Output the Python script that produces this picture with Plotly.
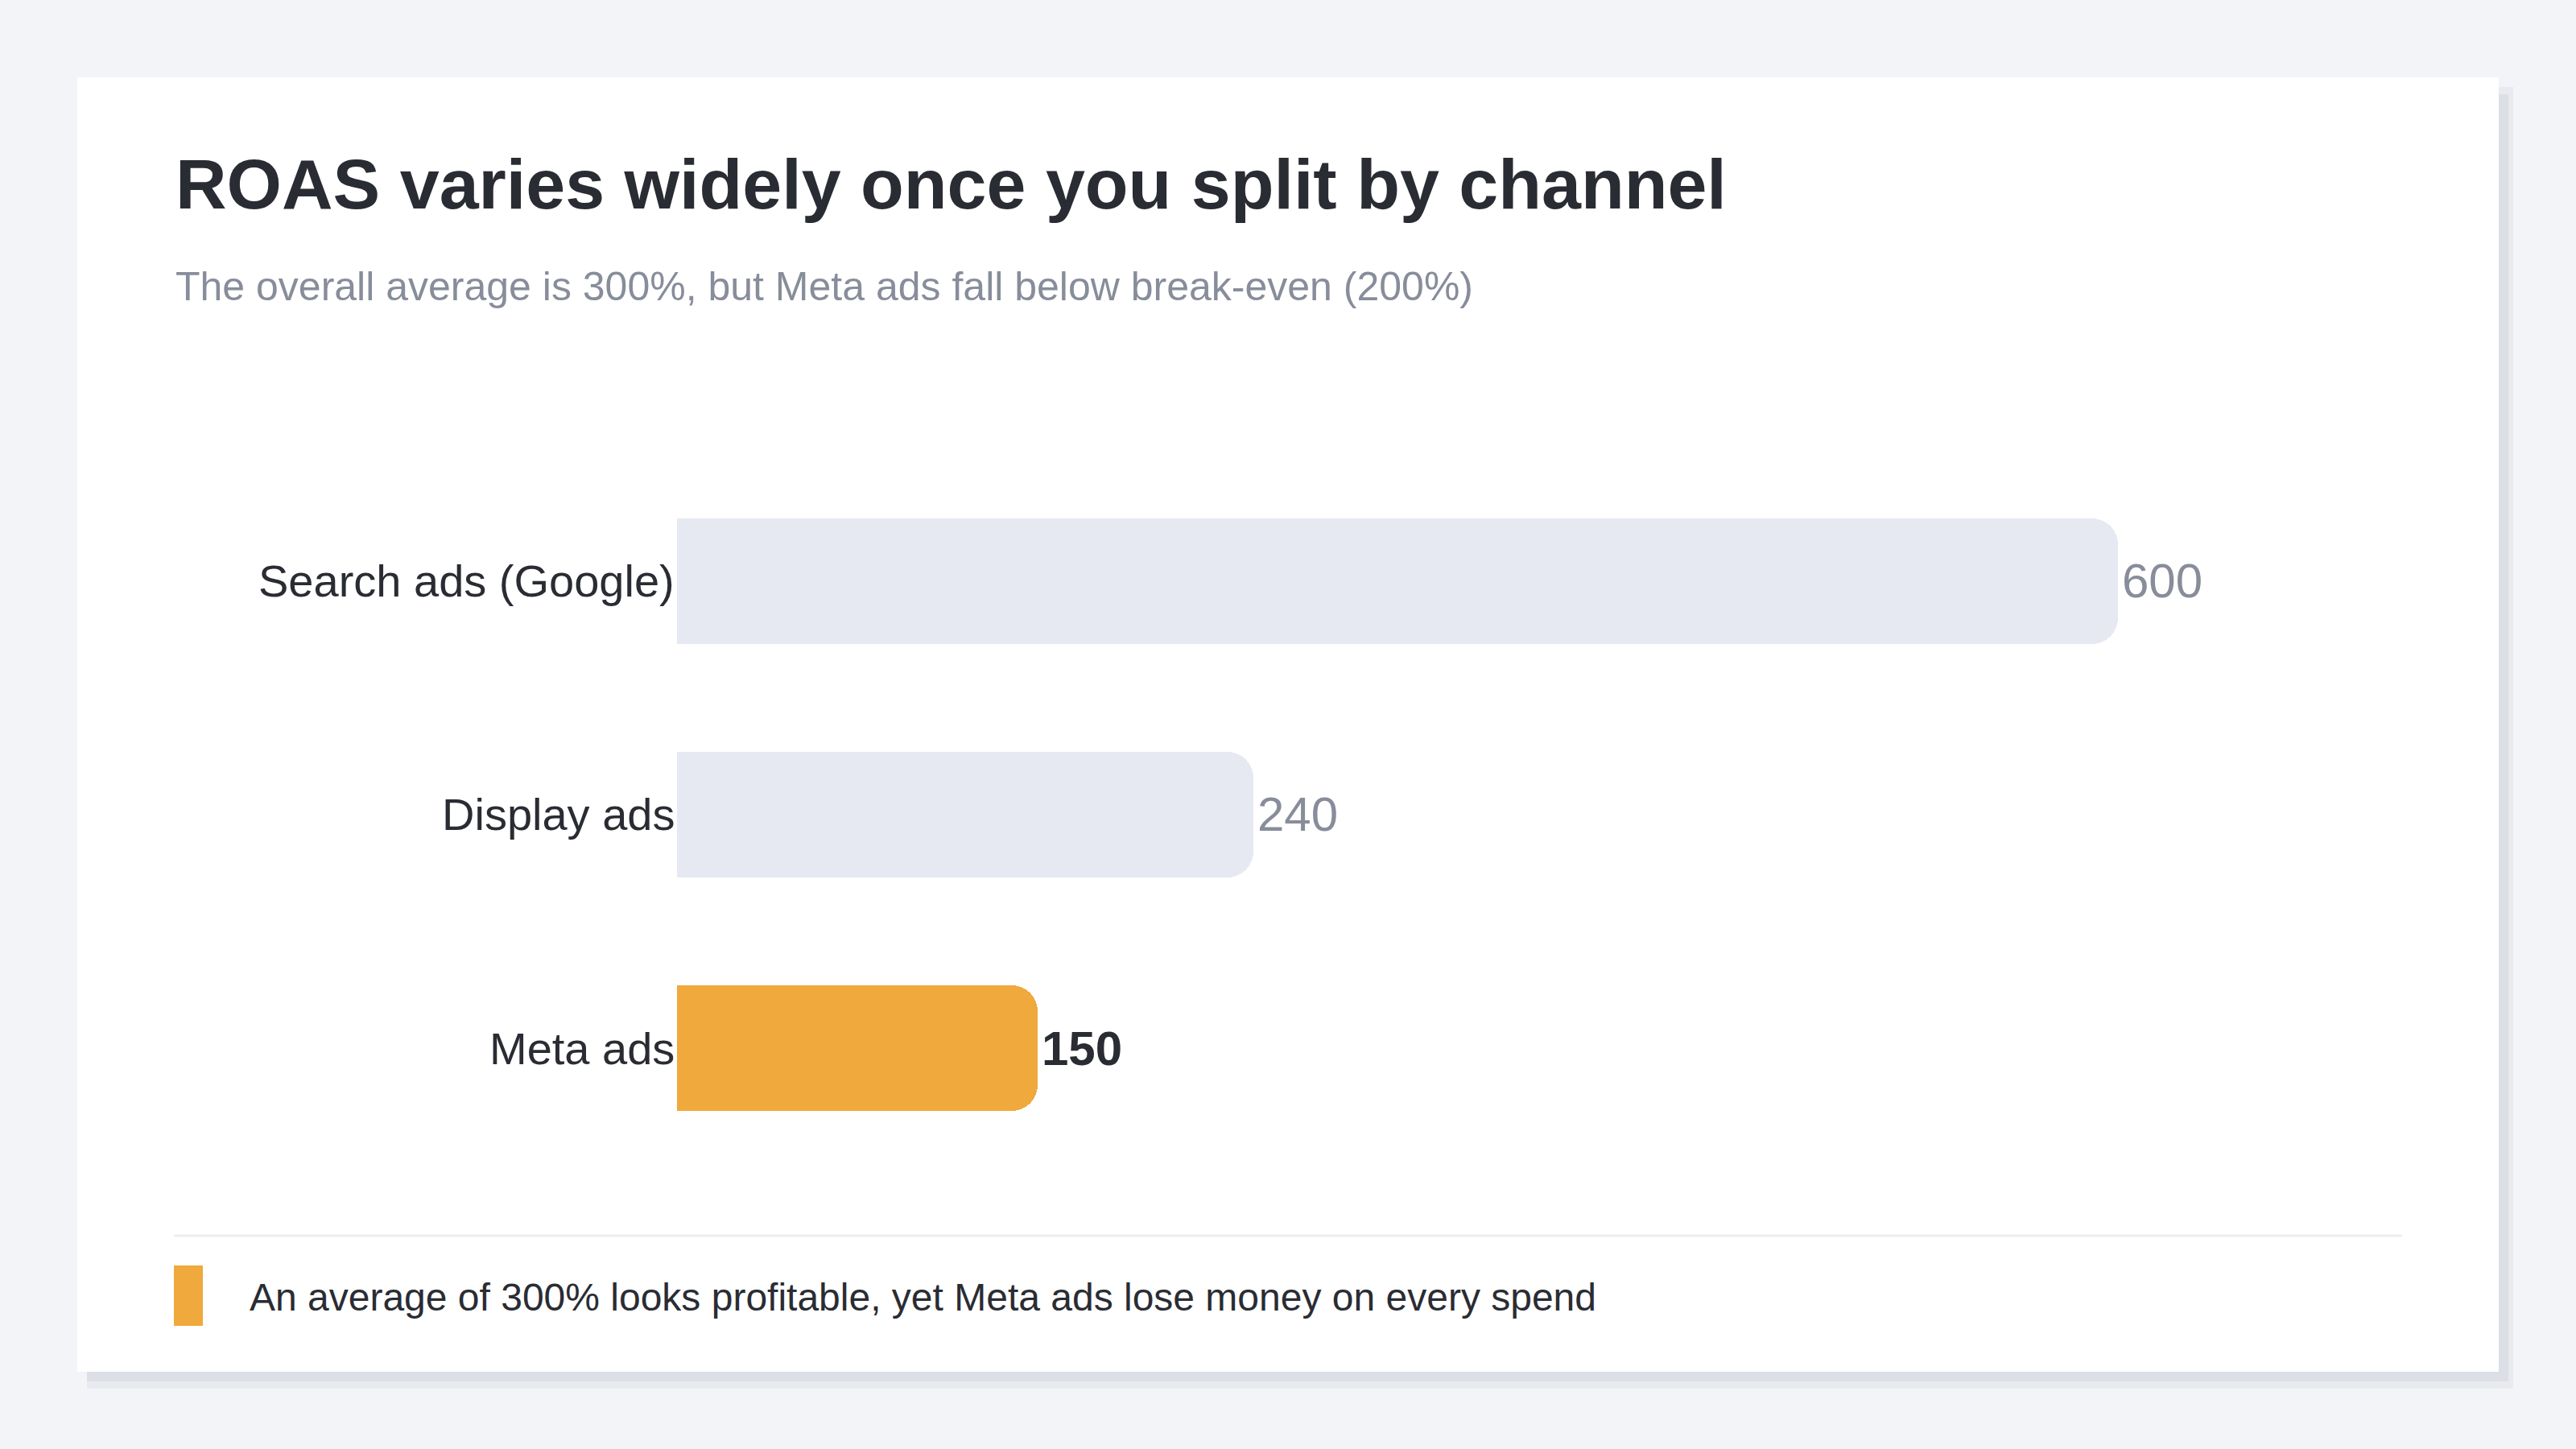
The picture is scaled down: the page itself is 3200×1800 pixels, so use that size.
import plotly.graph_objects as go

# ---- data ----
categories = ["Search ads (Google)", "Display ads", "Meta ads"]
values = [600, 240, 150]
highlight = "Meta ads"

title_text = "ROAS varies widely once you split by channel"
subtitle_text = "The overall average is 300%, but Meta ads fall below break-even (200%)"
footer_text = "An average of 300% looks profitable, yet Meta ads lose money on every spend"

# ---- style ----
W, H = 3200, 1800
FONT = "Liberation Sans, Arial, Helvetica, sans-serif"
BG = "#f3f4f8"
DARK = "#2a2c33"
GRAY_TXT = "#878d9a"
BAR_GRAY = "#e6e9f1"
ORANGE = "#f0a93c"


def px(x):
    return x / W


def py(y):
    return 1 - y / H


colors = [ORANGE if c == highlight else BAR_GRAY for c in categories]

fig = go.Figure()
fig.add_trace(go.Bar(
    x=values, y=categories, orientation="h", width=0.535,
    marker=dict(color=colors, cornerradius=32, line=dict(width=0)),
    hoverinfo="skip", showlegend=False,
))

shapes = [
    # shadow layers
    dict(type="rect", xref="paper", yref="paper", x0=px(108), x1=px(3122), y0=py(1725), y1=py(108),
         fillcolor="#e9eaef", line=dict(width=0), layer="below"),
    dict(type="rect", xref="paper", yref="paper", x0=px(108), x1=px(3116), y0=py(1716), y1=py(117),
         fillcolor="#dcdfe5", line=dict(width=0), layer="below"),
    # card
    dict(type="rect", xref="paper", yref="paper", x0=px(96), x1=px(3104), y0=py(1704), y1=py(96),
         fillcolor="#ffffff", line=dict(width=0), layer="below"),
    # divider
    dict(type="line", xref="paper", yref="paper", x0=px(216), x1=px(2984), y0=py(1535), y1=py(1535),
         line=dict(color="#eceef2", width=3), layer="below"),
    # footer swatch
    dict(type="rect", xref="paper", yref="paper", x0=px(216), x1=px(252), y0=py(1647), y1=py(1572),
         fillcolor=ORANGE, line=dict(width=0), layer="below"),
]

annotations = [
    dict(text=f"<b>{title_text}</b>", xref="paper", yref="paper", x=px(216), y=py(228),
         xanchor="left", yanchor="middle", showarrow=False,
         font=dict(family=FONT, size=88, color=DARK)),
    dict(text=subtitle_text, xref="paper", yref="paper", x=px(216), y=py(356),
         xanchor="left", yanchor="middle", showarrow=False,
         font=dict(family=FONT, size=50, color=GRAY_TXT)),
    dict(text=footer_text, xref="paper", yref="paper", x=px(308), y=py(1611),
         xanchor="left", yanchor="middle", showarrow=False,
         font=dict(family=FONT, size=48, color=DARK)),
]

for c, v in zip(categories, values):
    annotations.append(dict(
        text=c, x=0, y=c, xref="x", yref="y", xanchor="right", yanchor="middle",
        xshift=-1, showarrow=False, font=dict(family=FONT, size=56, color=DARK)))
    is_hl = c == highlight
    annotations.append(dict(
        text=f"<b>{v}</b>" if is_hl else f"{v}", x=v, y=c, xref="x", yref="y",
        xanchor="left", yanchor="middle", xshift=3, showarrow=False,
        font=dict(family=FONT, size=60, color=DARK if is_hl else GRAY_TXT)))

fig.update_layout(
    width=W, height=H,
    margin=dict(l=0, r=0, t=0, b=0),
    paper_bgcolor=BG, plot_bgcolor="rgba(0,0,0,0)",
    shapes=shapes, annotations=annotations,
    xaxis=dict(domain=[px(841), px(2631)], range=[0, 600], visible=False, fixedrange=True),
    yaxis=dict(domain=[py(1447), py(577)], type="category", categoryorder="array",
               categoryarray=categories, range=[2.5, -0.5], visible=False, fixedrange=True),
    bargap=0,
)

fig.write_html(
    "out.html",
    config={"displayModeBar": False},
    post_script="document.body.style.margin='0px';document.body.style.overflow='hidden';",
)
